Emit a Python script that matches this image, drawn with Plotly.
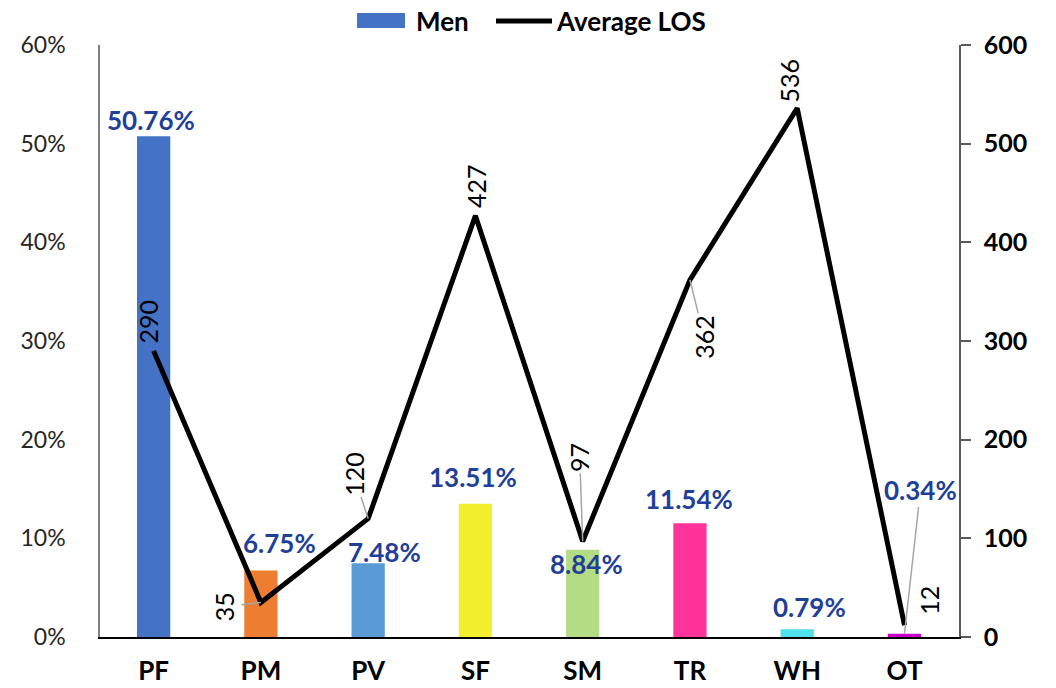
import plotly.graph_objects as go

categories = ["PF", "PM", "PV", "SF", "SM", "TR", "WH", "OT"]
men_share = [0.5076, 0.0675, 0.0748, 0.1351, 0.0884, 0.1154, 0.0079, 0.0034]
avg_los = [290, 35, 120, 427, 97, 362, 536, 12]
bar_colors = ["#4472C4", "#ED7D31", "#5B9BD5", "#F3EE2E", "#B4DC84", "#FF3399", "#4EE1EC", "#CC00CC"]
y_left_ticks = [0, 0.1, 0.2, 0.3, 0.4, 0.5, 0.6]
y_right_ticks = [0, 100, 200, 300, 400, 500, 600]

FONT = "Lato"
LABEL_BLUE = "#1F3F99"

fig = go.Figure()
fig.add_trace(go.Bar(
    x=categories, y=men_share, name="Men",
    marker=dict(color=bar_colors, line=dict(width=0)),
    width=0.31, yaxis="y", showlegend=False,
))
fig.add_trace(go.Scatter(
    x=categories, y=avg_los, name="Average LOS", mode="lines",
    line=dict(color="black", width=5), yaxis="y2", showlegend=False,
))

# bar value labels
bar_label_cfg = {
    "PF": dict(xs=-3, ys=16),
    "PM": dict(xs=19, ys=27),
    "PV": dict(xs=16, ys=11),
    "SF": dict(xs=-2, ys=27),
    "SM": dict(xs=4, ys=-14),
    "TR": dict(xs=-1, ys=24),
    "WH": dict(xs=12, ys=22),
}
bar_font = dict(family=FONT, size=26, color=LABEL_BLUE, weight="bold")
for c, v in zip(categories, men_share):
    txt = f"{v*100:.2f}%"
    if c in bar_label_cfg:
        cfg = bar_label_cfg[c]
        fig.add_annotation(x=c, y=v, yref="y", text=txt, showarrow=False,
                           xshift=cfg["xs"], yshift=cfg["ys"], font=bar_font)
    else:
        fig.add_annotation(x=c, y=v, yref="y", text=txt, showarrow=True,
                           arrowhead=0, arrowwidth=1.5, arrowcolor="#A6A6A6",
                           ax=16, ay=-144, standoff=0, font=bar_font)

# line value labels
line_label_cfg = {
    "PF": dict(arrow=False, xs=-6, ys=29),
    "PM": dict(arrow=True, ax=-36, ay=4),
    "PV": dict(arrow=True, ax=-15, ay=-45),
    "SF": dict(arrow=False, xs=0, ys=30),
    "SM": dict(arrow=True, ax=-3, ay=-84),
    "TR": dict(arrow=True, ax=14, ay=57),
    "WH": dict(arrow=False, xs=-8, ys=28),
    "OT": dict(arrow=False, xs=25, ys=25),
}
line_font = dict(family=FONT, size=25, color="black")
for c, v in zip(categories, avg_los):
    cfg = line_label_cfg[c]
    if cfg["arrow"]:
        fig.add_annotation(x=c, y=v, yref="y2", text=str(v), textangle=-90,
                           showarrow=True, arrowhead=0, arrowwidth=1.5,
                           arrowcolor="#A6A6A6", ax=cfg["ax"], ay=cfg["ay"],
                           standoff=0, font=line_font)
    else:
        fig.add_annotation(x=c, y=v, yref="y2", text=str(v), textangle=-90,
                           showarrow=False, xshift=cfg["xs"], yshift=cfg["ys"],
                           font=line_font)

# legend (drawn in paper coordinates above the plot)
legend_font = dict(family=FONT, size=26, color="black", weight="bold")
fig.add_shape(type="rect", xref="paper", yref="paper",
              x0=0.2992, x1=0.3551, y0=1.0287, y1=1.0541,
              fillcolor=bar_colors[0], line=dict(width=0))
fig.add_annotation(xref="paper", yref="paper", x=0.3655, y=1.0405,
                   xanchor="left", yanchor="middle", text="Men",
                   showarrow=False, font=legend_font)
fig.add_shape(type="line", xref="paper", yref="paper",
              x0=0.461, x1=0.5262, y0=1.0405, y1=1.0405,
              line=dict(color="black", width=5))
fig.add_annotation(xref="paper", yref="paper", x=0.5285, y=1.0405,
                   xanchor="left", yanchor="middle", text="Average LOS",
                   showarrow=False, font=legend_font)

fig.update_layout(
    width=1056, height=688,
    margin=dict(l=100, r=97, t=45, b=51, autoexpand=False),
    paper_bgcolor="white", plot_bgcolor="white",
    font=dict(family=FONT, size=20, color="black"),
    showlegend=False,
    bargap=0.69,
    xaxis=dict(
        showline=True, linecolor="black", linewidth=2,
        ticks="", showgrid=False, zeroline=False,
        tickfont=dict(family=FONT, size=26, color="black", weight="bold"),
        ticklabelstandoff=10,
    ),
    yaxis=dict(
        range=[0, 0.6], tickvals=y_left_ticks, tickformat=".0%",
        showline=True, linecolor="#7F7F7F", linewidth=1.5,
        ticks="", showgrid=False, zeroline=False,
        tickfont=dict(family=FONT, size=23, color="#262626"),
        ticklabelstandoff=28,
    ),
    yaxis2=dict(
        range=[0, 600], tickvals=y_right_ticks, overlaying="y", side="right",
        showline=True, linecolor="#595959", linewidth=1.5,
        ticks="outside", ticklen=10, tickcolor="#595959", tickwidth=1.5,
        showgrid=False, zeroline=False,
        tickfont=dict(family=FONT, size=25, color="black", weight="bold"),
        ticklabelstandoff=8,
    ),
)

# remove the default page margin so the figure fills the window exactly
fig.write_html("out.html",
               config={"displayModeBar": False},
               post_script="document.body.style.margin='0';document.body.style.overflow='hidden';")
